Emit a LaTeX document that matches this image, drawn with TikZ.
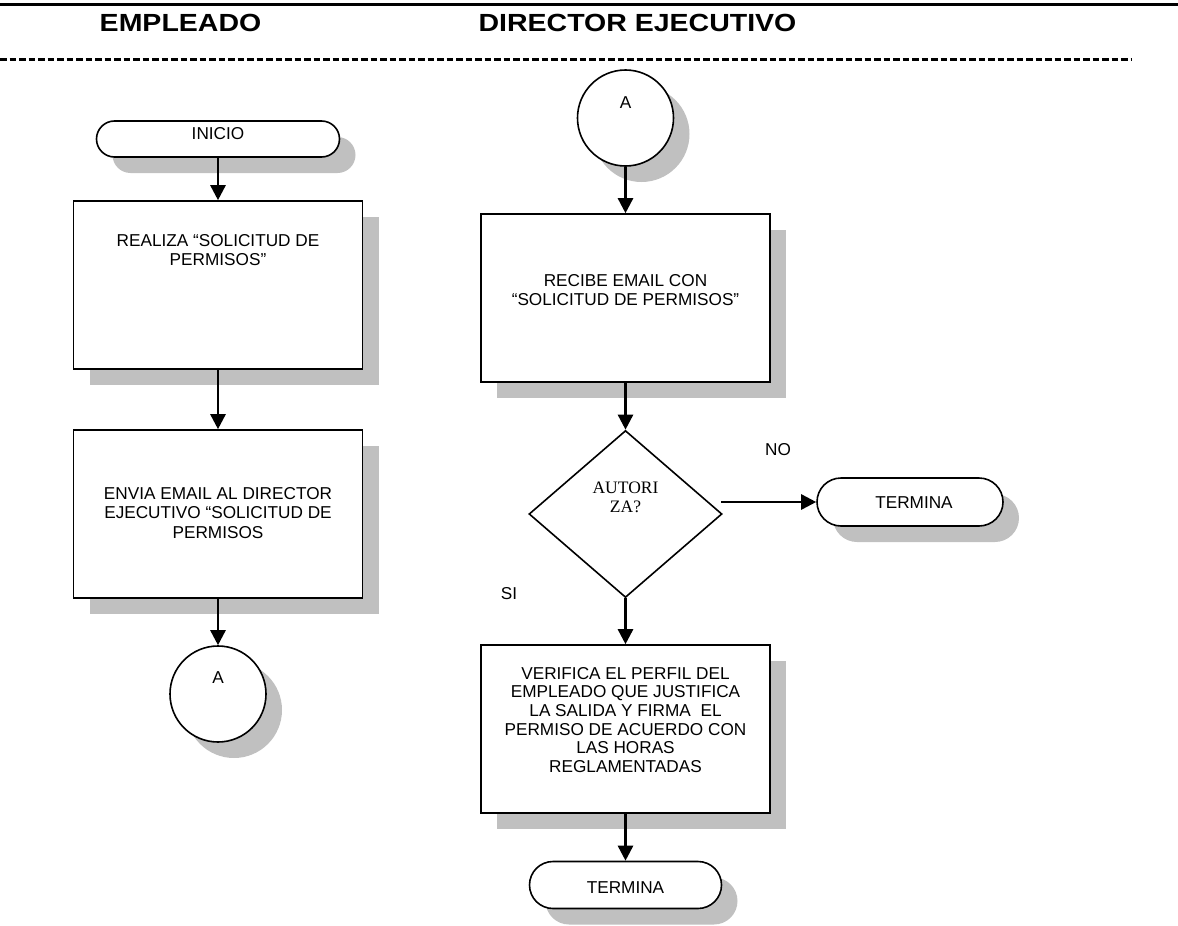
\documentclass[tikz,border=0pt]{standalone}
\usepackage{fontspec}
\setmainfont{Liberation Sans}
\newfontfamily\decisionfont{Liberation Serif}
\usetikzlibrary{shapes.geometric,shapes.misc,shadows,arrows.meta}
\definecolor{shade}{HTML}{C0C0C0}

\begin{document}
\begin{tikzpicture}[x=1pt,y=-1pt,
  shadowed/.style={fill=white, draw=black, line width=1.6pt,
    drop shadow={shadow xshift=16pt, shadow yshift=-16pt, fill=shade, opacity=1}},
  procbox/.style={shadowed, rectangle, minimum width=289pt, minimum height=168pt, inner sep=0pt},
  terminal/.style={shadowed, rounded rectangle, minimum height=36pt, inner sep=0pt},
  connector/.style={shadowed, circle, minimum size=96pt, inner sep=0pt},
  decision/.style={diamond, draw=black, line width=1.6pt, fill=white,
    minimum width=193pt, minimum height=167pt, inner sep=0pt},
  lbl/.style={font=\fontsize{17.2}{19.5}\selectfont, align=center, inner sep=0pt},
  header/.style={font=\fontsize{28.5}{30}\selectfont\bfseries, inner sep=0pt},
  flow/.style={line width=2.6pt, -{Triangle[length=15pt,width=15pt]}},
]
\useasboundingbox (0,0) rectangle (1178,926);

% page header: rule, lane titles, dashed separator
\draw[line width=3pt] (0,4) -- (1178,4);
\node[header] (hemp) at (180.5,23) {\scalebox{1}[0.87]{EMPLEADO}};
\node[header] (hdir) at (637.5,23) {\scalebox{1}[0.87]{DIRECTOR EJECUTIVO}};
\draw[line width=2.7pt, dash pattern=on 6.5pt off 3pt] (0,59.3) -- (1132,59.3);

% employee lane
\node[terminal, minimum width=243pt] (inicio) at (218,139) {};
\node[lbl] (tinicio) at ([yshift=5.5pt]inicio.center) {INICIO};
\node[procbox] (solicitud) at (218,285) {};
\node[lbl] (tsolicitud) at ([yshift=35pt]solicitud.center) {REALIZA “SOLICITUD DE\\PERMISOS”};
\node[procbox] (envio) at (218,514) {};
\node[lbl] (tenvio) at ([yshift=1pt]envio.center) {ENVIA EMAIL AL DIRECTOR\\EJECUTIVO “SOLICITUD DE\\PERMISOS};
\node[connector] (conA1) at (218,694) {};
\node[lbl] (tconA1) at ([yshift=16pt]conA1.center) {A};

% director lane
\node[connector] (conA2) at (625.5,118) {};
\node[lbl] (tconA2) at ([yshift=15pt]conA2.center) {A};
\node[procbox] (recibe) at (625.5,298) {};
\node[lbl] (trecibe) at ([yshift=8pt]recibe.center) {RECIBE EMAIL CON\\“SOLICITUD DE PERMISOS”};
\node[decision] (autoriza) at (625.5,514) {};
\node[lbl, font=\decisionfont\fontsize{17.5}{19}\selectfont] (tautoriza) at ([yshift=16.5pt]autoriza.center) {AUTORI\\ZA?};
\node[procbox] (verifica) at (625.5,729) {};
\node[lbl, font=\fontsize{17.2}{18.7}\selectfont] (tverifica) at ([yshift=9pt]verifica.center)
  {VERIFICA EL PERFIL DEL\\EMPLEADO QUE JUSTIFICA\\LA SALIDA Y FIRMA \ EL\\PERMISO DE ACUERDO CON\\LAS HORAS\\REGLAMENTADAS};
\node[terminal, minimum width=192pt, minimum height=47pt] (fin) at (625.5,885) {};
\node[lbl] (tfin) at ([yshift=-3pt]fin.center) {TERMINA};
\node[terminal, minimum width=186pt, minimum height=48pt] (finno) at (910,502) {};
\node[lbl] (tfinno) at ([xshift=4pt,yshift=-1pt]finno.center) {TERMINA};
\node[lbl] (lno) at (778,450) {NO};
\node[lbl] (lsi) at (509,594) {SI};

% connectors
\draw[flow] (inicio) -- (solicitud);
\draw[flow] (solicitud) -- (envio);
\draw[flow] (envio) -- (conA1);
\draw[flow] (conA2) -- (recibe);
\draw[flow] (recibe) -- (autoriza);
\draw[flow] (autoriza) -- (verifica);
\draw[flow] (verifica) -- (fin);
\coordinate (nostart) at (721,502);
\draw[flow] (nostart) -- (finno.west);
\end{tikzpicture}
\end{document}
